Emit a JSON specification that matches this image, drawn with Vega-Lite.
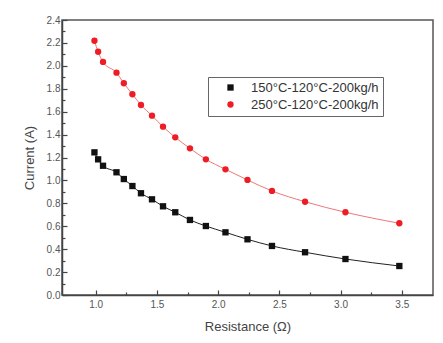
{
  "$schema": "https://vega.github.io/schema/vega-lite/v6.json",
  "width": 371,
  "height": 275,
  "autosize": {"type": "none"},
  "padding": {"left": 62, "top": 20, "right": 10, "bottom": 48},
  "background": "white",
  "config": {
    "view": {"stroke": "#555", "strokeWidth": 1.5},
    "axis": {
      "grid": false,
      "domainColor": "#444",
      "domainWidth": 1.5,
      "tickColor": "#444",
      "tickWidth": 1.2,
      "labelColor": "#555",
      "labelFont": "Liberation Sans",
      "labelFontSize": 10,
      "titleFont": "Liberation Sans",
      "titleFontSize": 13,
      "titleFontWeight": "normal",
      "titleColor": "#444"
    }
  },
  "data": {
    "values": [
      {"R": 0.99, "I": 1.245, "series": "150°C-120°C-200kg/h"},
      {"R": 1.02, "I": 1.184, "series": "150°C-120°C-200kg/h"},
      {"R": 1.06, "I": 1.128, "series": "150°C-120°C-200kg/h"},
      {"R": 1.17, "I": 1.071, "series": "150°C-120°C-200kg/h"},
      {"R": 1.23, "I": 1.012, "series": "150°C-120°C-200kg/h"},
      {"R": 1.30, "I": 0.951, "series": "150°C-120°C-200kg/h"},
      {"R": 1.37, "I": 0.888, "series": "150°C-120°C-200kg/h"},
      {"R": 1.46, "I": 0.835, "series": "150°C-120°C-200kg/h"},
      {"R": 1.55, "I": 0.774, "series": "150°C-120°C-200kg/h"},
      {"R": 1.65, "I": 0.722, "series": "150°C-120°C-200kg/h"},
      {"R": 1.77, "I": 0.655, "series": "150°C-120°C-200kg/h"},
      {"R": 1.90, "I": 0.602, "series": "150°C-120°C-200kg/h"},
      {"R": 2.06, "I": 0.547, "series": "150°C-120°C-200kg/h"},
      {"R": 2.24, "I": 0.486, "series": "150°C-120°C-200kg/h"},
      {"R": 2.44, "I": 0.428, "series": "150°C-120°C-200kg/h"},
      {"R": 2.71, "I": 0.373, "series": "150°C-120°C-200kg/h"},
      {"R": 3.04, "I": 0.314, "series": "150°C-120°C-200kg/h"},
      {"R": 3.48, "I": 0.253, "series": "150°C-120°C-200kg/h"},
      {"R": 0.99, "I": 2.219, "series": "250°C-120°C-200kg/h"},
      {"R": 1.02, "I": 2.123, "series": "250°C-120°C-200kg/h"},
      {"R": 1.06, "I": 2.034, "series": "250°C-120°C-200kg/h"},
      {"R": 1.17, "I": 1.940, "series": "250°C-120°C-200kg/h"},
      {"R": 1.23, "I": 1.848, "series": "250°C-120°C-200kg/h"},
      {"R": 1.30, "I": 1.752, "series": "250°C-120°C-200kg/h"},
      {"R": 1.37, "I": 1.658, "series": "250°C-120°C-200kg/h"},
      {"R": 1.46, "I": 1.565, "series": "250°C-120°C-200kg/h"},
      {"R": 1.55, "I": 1.469, "series": "250°C-120°C-200kg/h"},
      {"R": 1.65, "I": 1.376, "series": "250°C-120°C-200kg/h"},
      {"R": 1.77, "I": 1.280, "series": "250°C-120°C-200kg/h"},
      {"R": 1.90, "I": 1.184, "series": "250°C-120°C-200kg/h"},
      {"R": 2.06, "I": 1.097, "series": "250°C-120°C-200kg/h"},
      {"R": 2.24, "I": 1.004, "series": "250°C-120°C-200kg/h"},
      {"R": 2.44, "I": 0.908, "series": "250°C-120°C-200kg/h"},
      {"R": 2.71, "I": 0.814, "series": "250°C-120°C-200kg/h"},
      {"R": 3.04, "I": 0.722, "series": "250°C-120°C-200kg/h"},
      {"R": 3.48, "I": 0.626, "series": "250°C-120°C-200kg/h"}
    ]
  },
  "resolve": {"axis": {"x": "independent", "y": "independent"}},
  "layer": [
    {
      "mark": {"type": "line", "interpolate": "monotone", "strokeWidth": 1},
      "encoding": {
        "x": {
          "field": "R", "type": "quantitative",
          "scale": {"domain": [0.725, 3.755], "nice": false, "zero": false},
          "axis": {
            "orient": "bottom",
            "title": "Resistance (Ω)",
            "values": [1, 1.5, 2, 2.5, 3, 3.5],
            "format": ".1f",
            "tickSize": -5,
            "labelPadding": 9,
            "titlePadding": 11
          }
        },
        "y": {
          "field": "I", "type": "quantitative",
          "scale": {"domain": [0, 2.4], "nice": false},
          "axis": {
            "orient": "left",
            "title": "Current (A)",
            "values": [0, 0.2, 0.4, 0.6, 0.8, 1.0, 1.2, 1.4, 1.6, 1.8, 2.0, 2.2, 2.4],
            "format": ".1f",
            "tickSize": -5,
            "labelPadding": 7,
            "titlePadding": 10
          }
        },
        "stroke": {
          "field": "series", "type": "nominal",
          "scale": {"range": ["#222222", "#ee7777"]},
          "legend": null
        },
        "detail": {"field": "series"}
      }
    },
    {
      "mark": {"type": "point", "filled": true, "opacity": 1},
      "encoding": {
        "x": {"field": "R", "type": "quantitative", "axis": null},
        "y": {"field": "I", "type": "quantitative", "axis": null},
        "color": {
          "field": "series", "type": "nominal",
          "scale": {"range": ["#111111", "#ee1c25"]},
          "legend": {
            "title": null,
            "orient": "none",
            "legendX": 146,
            "legendY": 57,
            "strokeColor": "#666",
            "fillColor": "white",
            "padding": 4,
            "symbolOffset": 12,
            "labelOffset": 14,
            "labelFont": "Liberation Sans",
            "labelFontSize": 13,
            "labelColor": "#333",
            "symbolSize": 40,
            "symbolStrokeWidth": 0,
            "rowPadding": 3
          }
        },
        "shape": {
          "field": "series", "type": "nominal",
          "scale": {"range": ["square", "circle"]}
        },
        "size": {"value": 40}
      }
    },
    {
      "mark": {"type": "point", "opacity": 0},
      "encoding": {
        "x": {
          "field": "R", "type": "quantitative",
          "axis": {
            "orient": "bottom",
            "title": null,
            "values": [1.25, 1.75, 2.25, 2.75, 3.25],
            "labels": false,
            "domain": false,
            "tickSize": -3
          }
        },
        "y": {
          "field": "I", "type": "quantitative",
          "axis": {
            "orient": "left",
            "title": null,
            "values": [0.1, 0.3, 0.5, 0.7, 0.9, 1.1, 1.3, 1.5, 1.7, 1.9, 2.1, 2.3],
            "labels": false,
            "domain": false,
            "tickSize": -3
          }
        }
      }
    }
  ]
}
